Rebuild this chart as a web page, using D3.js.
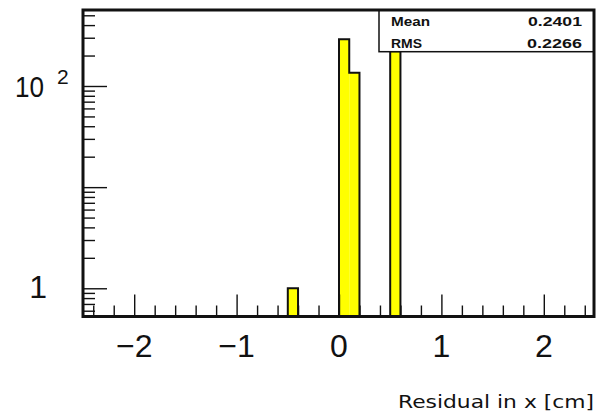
<!DOCTYPE html>
<html><head><meta charset="utf-8">
<script src="https://cdn.jsdelivr.net/npm/d3@7"></script>
<style>body{margin:0;background:#fff} svg{display:block} text{font-family:"Liberation Sans",Arial,Helvetica,sans-serif;fill:#111}</style>
</head><body><svg id="c" width="596" height="413"></svg>
<script>
// ---- data ----
const binLow = [-0.5, 0.0, 0.1, 0.5];
const binCounts = [1, 290, 135, 220];
const binWidth = 0.1;
const xMajorTicks = [-2, -1, 0, 1, 2];
const xTickLabels = ["\u22122", "\u22121", "0", "1", "2"];
const yMajorTicks = [1, 10, 100];
const statsNames = ["Mean", "RMS"];
const statsValues = ["0.2401", "0.2266"];
const xTitle = "Residual in x [cm]";

// ---- layout ----
const L = 83, R = 595, T = 10, B = 316.5;
const svg = d3.select("#c");
const x = d3.scaleLinear().domain([-2.5, 2.5]).range([L, R]);
const y = d3.scaleLog().domain([0.526, 564]).range([B, T]);

// bars fill
const bins = binLow.map((lo, i) => ({lo, hi: lo + binWidth, c: binCounts[i]}));
svg.append("g").selectAll("rect").data(bins).join("rect")
  .attr("x", d => x(d.lo)).attr("width", d => x(d.hi) - x(d.lo))
  .attr("y", d => y(d.c)).attr("height", d => B - y(d.c))
  .attr("fill", "#ffff00");

// outline (step contour)
const sorted = bins.slice().sort((a, b) => a.lo - b.lo);
let p = "", prevHi = null;
sorted.forEach(d => {
  const adj = prevHi !== null && Math.abs(d.lo - prevHi) < 1e-9;
  if (!adj) {
    if (prevHi !== null) p += `V${B}`;
    p += `M${x(d.lo)},${B}`;
  }
  p += `V${y(d.c)}H${x(d.hi)}`;
  prevHi = d.hi;
});
p += `V${B}`;
svg.append("path").attr("d", p).attr("fill", "none").attr("stroke", "#111").attr("stroke-width", 2);

// x axis ticks
const xMinor = d3.range(-24, 25, 2).map(v => v / 10).filter(v => !xMajorTicks.some(m => Math.abs(m - v) < 1e-9));
const gx1 = svg.append("g").attr("transform", `translate(0,${B})`)
  .call(d3.axisBottom(x).tickValues(xMajorTicks).tickSize(-22).tickFormat(""));
const gx2 = svg.append("g").attr("transform", `translate(0,${B})`)
  .call(d3.axisBottom(x).tickValues(xMinor).tickSize(-11).tickFormat(""));
// y axis ticks
const yMinor = [];
[0.1, 1, 10, 100].forEach(dec => { for (let k = 2; k <= 9; k++) { const v = k * dec; if (v > 0.526 && v < 564) yMinor.push(v); } });
const gy1 = svg.append("g").attr("transform", `translate(${L},0)`)
  .call(d3.axisLeft(y).tickValues(yMajorTicks).tickSize(-24).tickFormat(""));
const gy2 = svg.append("g").attr("transform", `translate(${L},0)`)
  .call(d3.axisLeft(y).tickValues(yMinor).tickSize(-12).tickFormat(""));
[gx1, gx2, gy1, gy2].forEach(g => {
  g.select(".domain").remove();
  g.selectAll("line").attr("stroke", "#111").attr("stroke-width", 1.4);
});

// x tick labels
svg.append("g").selectAll("text").data(xMajorTicks).join("text")
  .attr("x", d => x(d)).attr("y", 357).attr("text-anchor", "middle")
  .attr("font-size", 32).text((d, i) => xTickLabels[i]);

// y tick labels: 1 and 10^2
svg.append("text").attr("x", 47).attr("y", y(1) + 10).attr("text-anchor", "end")
  .attr("font-size", 32).text("1");
const t100 = svg.append("text").attr("y", y(100) + 11).attr("font-size", 30);
t100.append("tspan").attr("x", 15).attr("textLength", 29).attr("lengthAdjust", "spacingAndGlyphs").text("10");
t100.append("tspan").attr("x", 57).attr("y", y(100) - 2).attr("font-size", 21).text("2");

// x title
svg.append("text").attr("x", 398).attr("y", 408).attr("font-size", 17.5)
  .style("font-family", "'DejaVu Sans',sans-serif")
  .attr("textLength", 196).attr("lengthAdjust", "spacingAndGlyphs").text(xTitle);

// stats box
svg.append("rect").attr("x", 379).attr("y", T).attr("width", R - 1 - 379).attr("height", 51.7 - T)
  .attr("fill", "#fff").attr("stroke", "#111").attr("stroke-width", 1.5);
const nameLen = [39, 31], valLen = [54, 55];
statsNames.forEach((n, i) => {
  svg.append("text").attr("x", 391).attr("y", 25.7 + i * 22).attr("font-size", 12.5).attr("font-weight", "bold")
    .attr("textLength", nameLen[i]).attr("lengthAdjust", "spacingAndGlyphs").text(n);
  svg.append("text").attr("x", 582 - valLen[i]).attr("y", 25.7 + i * 22).attr("font-size", 12.5).attr("font-weight", "bold")
    .attr("textLength", valLen[i]).attr("lengthAdjust", "spacingAndGlyphs").text(statsValues[i]);
});

// frame
svg.append("rect").attr("x", L).attr("y", T).attr("width", R - L - 1).attr("height", B - T)
  .attr("fill", "none").attr("stroke", "#111").attr("stroke-width", 3);
</script></body></html>
